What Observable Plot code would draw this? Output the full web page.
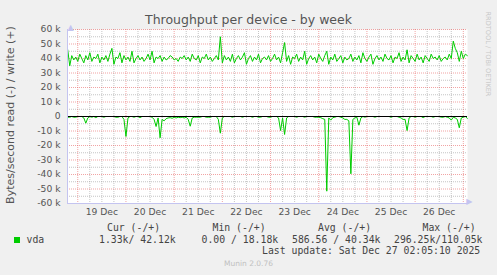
<!DOCTYPE html>
<html><head><meta charset="utf-8">
<script src="https://cdn.jsdelivr.net/npm/d3@7"></script>
<script src="https://cdn.jsdelivr.net/npm/@observablehq/plot@0.6"></script>
<style>
body{margin:0;background:#f0f0f0;}
#wrap{position:relative;width:497px;height:275px;overflow:hidden;background:#f0f0f0;}
#wrap svg{position:absolute;left:0;top:0;}
.t{position:absolute;white-space:pre;}
.mono{font-family:"DejaVu Sans Mono",monospace;font-size:9.8px;color:#444;line-height:12px;}
</style></head>
<body><div id="wrap"></div>
<script>
// Write (+) throughput in kB/s, one sample per hour starting 18 Dec 19:00 UTC
const writeK = [
46,35,42,39,41,38,43,40,37,42,39,44,38,41,40,43,37,41,39,42,
38,43,47,36,41,40,44,37,42,39,41,38,45,37,40,42,39,41,38,40,
43,39,45,37,41,40,42,38,41,39,40,42,41,39,40,38,41,40,42,39,
41,38,43,40,39,42,37,41,40,43,39,41,38,40,42,39,55,37,42,39,
41,38,43,37,40,42,39,41,44,36,40,42,38,41,39,43,37,40,41,39,
42,38,40,43,39,41,37,44,51,38,42,36,41,40,43,38,41,39,45,36,
40,42,39,41,37,43,40,38,42,45,36,41,39,43,38,40,42,37,41,39,
40,43,38,41,39,42,37,44,40,38,41,43,36,40,42,39,41,38,43,40,
39,42,37,41,40,44,38,41,39,46,37,42,40,38,43,39,41,37,42,40,
38,43,40,41,39,42,38,40,41,39,43,40,52,47,44,38,45,40,43,42];
// Read (-) throughput in kB/s (drawn negative)
const readK = [
-0.5,-0.5,0,-0.5,-0.5,0,0,0,-1,-4.6,-1,0,-0.5,0,-0.8,0,0,0,-0.5,0,
0,0,0,0,-0.5,-0.5,0,0,-2,-13.8,-1,0,0,-0.5,0,0,-0.8,0,0,0,
0,0,-0.5,-2,-6.9,-1,-14.7,-2,-3,-1.5,-1,-0.8,-1.2,-0.6,-1,-0.5,-0.8,-0.5,-1,-0.5,
-2,-6.7,-1,-0.5,-0.5,-0.5,-0.5,0,0,-0.5,-0.5,-0.5,0,0,0,-2,-11.5,-1,0,0,
0,0,-0.5,0,0,0,0,-0.5,0,0,0,0,-0.5,0,0,-0.5,-0.5,0,0,0,
-0.5,-0.5,0,0,0,-1,-9.7,-1,-12.4,-1,0,0,0,0,-0.5,0,0,0,-0.5,0,
0,0,0,-0.5,-0.5,-0.5,-0.8,-1.5,-2,-51.5,-1,-2.5,-0.8,-0.5,0,0,-0.5,-1,-2,-2,
-3,-39.5,-2,-1,-0.5,-6,-1,0,-0.5,0,0,0,0,-0.5,0,0,0,0,0,0,
0,-0.5,0,0,0,-0.5,-1,-2,-2,-9.7,-1,0,0,-0.5,0,0,0,-0.8,0,0,
0,0,-0.5,0,0,0,-0.5,-0.5,0,-0.5,-1,-2.5,-0.5,-1,-2,-7.8,-1,-0.5,0,-1.3];
const dayLabels = ["19 Dec","20 Dec","21 Dec","22 Dec","23 Dec","24 Dec","25 Dec","26 Dec"];
const yTicks = [-60,-50,-40,-30,-20,-10,0,10,20,30,40,50,60];
const legendHead = ["Cur (-/+)","Min (-/+)","Avg (-/+)","Max (-/+)"];
const legendVals = ["1.33k/ 42.12k","0.00 / 18.18k","586.56 / 40.34k","296.25k/110.05k"];
const seriesName = "vda";
const lastUpdate = "Last update: Sat Dec 27 02:05:10 2025";

const H = 3600e3;
const t0 = Date.UTC(2025,11,18,19);
const start = new Date(Date.UTC(2025,11,18,18,53));
const end = new Date(Date.UTC(2025,11,27,2,5,10));
const writeData = writeK.map((v,i)=>({t:new Date(t0+i*H), v}));
const readData = readK.map((v,i)=>({t:new Date(t0+i*H), v}));
const dayStarts = d3.utcDay.range(start, end);
const minorX = d3.utcHour.every(6).range(start, end).filter(d=>d.getUTCHours()!==0);
const noons = dayStarts.map(d=>new Date(+d+12*H)).filter(d=>d<end);
const minorY = d3.range(-55,60,10);

const major = "rgba(230,90,90,0.55)", minor = "rgba(150,150,150,0.55)", axisC = "#c4c4f0";
const plot = Plot.plot({
  width:497, height:275,
  marginLeft:67, marginRight:30, marginTop:29, marginBottom:72,
  style:{background:"transparent", fontFamily:"DejaVu Sans", fontSize:"9.2px", color:"#555", overflow:"visible"},
  x:{type:"utc", domain:[start,end]},
  y:{domain:[-60,60]},
  marks:[
    Plot.frame({fill:"white", stroke:null}),
    Plot.ruleX(minorX, {stroke:minor, strokeDasharray:"1,1"}),
    Plot.ruleY(minorY, {stroke:minor, strokeDasharray:"1,1"}),
    Plot.ruleX(dayStarts, {stroke:major, strokeDasharray:"1,1"}),
    Plot.ruleY(yTicks, {stroke:major, strokeDasharray:"1,1"}),
    Plot.line(writeData, {x:"t", y:"v", stroke:"#00cc00", strokeWidth:1}),
    Plot.line(readData, {x:"t", y:"v", stroke:"#00cc00", strokeWidth:1}),
    Plot.ruleY([0], {stroke:"black", strokeWidth:1}),
    Plot.ruleX([start], {stroke:axisC}),
    Plot.ruleY([-60], {stroke:axisC}),
    Plot.text(["▲"], {frameAnchor:"top-left", dy:-5, fill:axisC, fontSize:8}),
    Plot.text(["▶"], {frameAnchor:"bottom-right", dx:5, fill:axisC, fontSize:8}),
    Plot.axisY({ticks:yTicks, tickFormat:d=>d===0?"0":d+" k", tickSize:0, tickPadding:7, label:null}),
    Plot.axisX({ticks:noons, tickFormat:(d,i)=>dayLabels[i], tickSize:0, tickPadding:5, label:null})
  ]
});
const wrap = document.getElementById("wrap");
wrap.appendChild(plot);
function add(txt, css, cls="t"){const d=document.createElement("div");d.className=cls;d.textContent=txt;Object.assign(d.style,css);wrap.appendChild(d);return d;}
add("Throughput per device - by week",{left:"0",width:"497px",textAlign:"center",top:"12.5px",fontFamily:"DejaVu Sans",fontSize:"12.5px",lineHeight:"14px",color:"#555"});
add("Bytes/second read (-) / write (+)",{left:"11px",top:"115px",fontFamily:"DejaVu Sans",fontSize:"11px",lineHeight:"12px",color:"#555",transform:"translate(-50%,-50%) rotate(-90deg)"});
add("RRDTOOL / TOBI OETIKER",{left:"488px",top:"54px",fontFamily:"DejaVu Sans",fontSize:"6.6px",lineHeight:"8px",color:"#c8c8c8",transform:"translate(-50%,-50%) rotate(90deg)"});
const headX=[107,212.5,318,422.5], valX=[99,201.5,292,394];
legendHead.forEach((s,i)=>add(s,{left:headX[i]+"px",top:"221.7px"},"t mono"));
legendVals.forEach((s,i)=>add(s,{left:valX[i]+"px",top:"233.7px"},"t mono"));
add(seriesName,{left:"26.5px",top:"233.7px"},"t mono");
const sq=add("",{left:"14px",top:"237px",width:"6px",height:"6px",background:"#00cc00"});
add(lastUpdate,{left:"262px",top:"245px"},"t mono");
add("Munin 2.0.76",{left:"0",width:"497px",textAlign:"center",top:"259px",fontFamily:"DejaVu Sans",fontSize:"7.5px",lineHeight:"10px",color:"#c0c0c0"});
</script></body></html>
